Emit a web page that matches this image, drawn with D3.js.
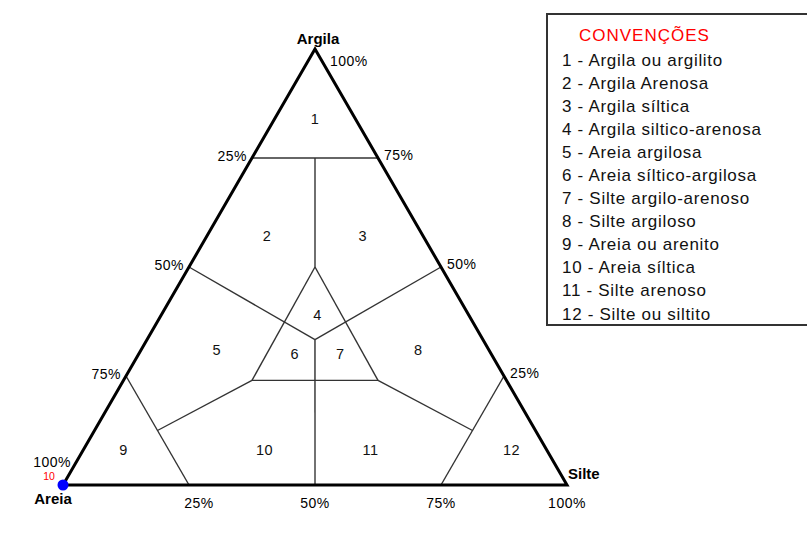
<!DOCTYPE html>
<html lang="pt">
<head>
<meta charset="UTF-8">
<title>Diagrama triangular de Shepard</title>
<script src="https://d3js.org/d3.v7.min.js"></script>
<style>
    body { margin: 0; background: #fff; }
    svg { font-family: "Liberation Sans", Arial, sans-serif; }
</style>
</head>
<body>
<div id="chart"></div>
<script>
const width = 807;
const height = 535;

// classes (legend)
const classIds = [1, 2, 3, 4, 5, 6, 7, 8, 9, 10, 11, 12];
const classNames = [
    "Argila ou argilito", "Argila Arenosa", "Argila síltica", "Argila siltico-arenosa",
    "Areia argilosa", "Areia síltico-argilosa", "Silte argilo-arenoso", "Silte argiloso",
    "Areia ou arenito", "Areia síltica", "Silte arenoso", "Silte ou siltito"
];

// label position of each class, as % clay and % silt (sand = rest)
const labelClay = [84, 57, 57, 39, 31, 30, 30, 31, 8, 8, 8, 8];
const labelSilt = [8, 12, 31, 31, 15, 31, 40, 55, 8, 36, 57, 85];

// class boundaries, as pairs of [clay, silt] points (%)
const boundaries = [
    [[75, 0], [75, 25]],          // 75% clay line
    [[75, 12.5], [50, 25]],       // upper vertical
    [[50, 25], [24, 25.5]],       // inner triangle
    [[24, 25.5], [24, 50.5]],
    [[24, 50.5], [50, 25]],
    [[50, 0], [33.33, 33.33]],    // left median
    [[50, 50], [33.33, 33.33]],   // right median
    [[33.33, 33.33], [0, 50]],    // lower vertical
    [[25, 0], [0, 25]],           // 75% sand line
    [[12.5, 12.5], [24, 25.5]],
    [[25, 75], [0, 75]],          // 75% silt line
    [[12.5, 75], [24, 50.5]]
];

const tickValues = [25, 50, 75, 100];

const x = d3.scaleLinear().domain([0, 100]).range([63, 567]);
const y = d3.scaleLinear().domain([0, 100]).range([485, 49]);

// ternary -> screen
function pt(clay, silt) {
    return [x(silt + clay / 2), y(clay)];
}

const svg = d3.select("#chart").append("svg")
    .attr("width", width)
    .attr("height", height);

const line = d3.line();

// boundaries
svg.append("g")
    .selectAll("path")
    .data(boundaries)
    .join("path")
    .attr("d", d => line(d.map(p => pt(p[0], p[1]))))
    .attr("fill", "none")
    .attr("stroke", "#333")
    .attr("stroke-width", 1.4);

// outer triangle
svg.append("path")
    .attr("d", line([pt(0, 0), pt(100, 0), pt(0, 100)]) + "Z")
    .attr("fill", "none")
    .attr("stroke", "#000")
    .attr("stroke-width", 3)
    .attr("stroke-linejoin", "miter");

// class numbers
svg.append("g")
    .selectAll("text")
    .data(classIds)
    .join("text")
    .attr("x", (d, i) => pt(labelClay[i], labelSilt[i])[0])
    .attr("y", (d, i) => pt(labelClay[i], labelSilt[i])[1])
    .attr("text-anchor", "middle")
    .attr("dominant-baseline", "central")
    .attr("font-size", 14.5)
    .attr("letter-spacing", 0.5)
    .attr("fill", "#111")
    .text(d => d);

// ticks: left side (sand %), right side (clay %), bottom (silt %)
const tickFont = 14;
const tickSpacing = 0.5;
svg.append("g")
    .selectAll("text")
    .data(tickValues.filter(v => v < 100))
    .join("text")
    .attr("x", d => pt(100 - d, 0)[0] - 5)
    .attr("y", d => pt(100 - d, 0)[1] - 2)
    .attr("text-anchor", "end")
    .attr("dominant-baseline", "central")
    .attr("font-size", tickFont)
    .attr("letter-spacing", tickSpacing)
    .text(d => d + "%");

svg.append("text")
    .attr("x", pt(0, 0)[0] + 8)
    .attr("y", pt(0, 0)[1] - 23)
    .attr("text-anchor", "end")
    .attr("dominant-baseline", "central")
    .attr("font-size", tickFont)
    .attr("letter-spacing", tickSpacing)
    .text("100%");

svg.append("g")
    .selectAll("text")
    .data(tickValues)
    .join("text")
    .attr("x", d => pt(d, 100 - d)[0] + (d === 100 ? 15 : 6))
    .attr("y", d => pt(d, 100 - d)[1] + (d === 100 ? 12 : -3))
    .attr("text-anchor", "start")
    .attr("dominant-baseline", "central")
    .attr("font-size", tickFont)
    .attr("letter-spacing", tickSpacing)
    .text(d => d + "%");

svg.append("g")
    .selectAll("text")
    .data(tickValues)
    .join("text")
    .attr("x", d => pt(0, d)[0] + (d === 25 ? 10 : 0))
    .attr("y", pt(0, 0)[1] + 18)
    .attr("text-anchor", "middle")
    .attr("dominant-baseline", "central")
    .attr("font-size", tickFont)
    .attr("letter-spacing", tickSpacing)
    .text(d => d + "%");

// vertex names
svg.append("text")
    .attr("x", pt(100, 0)[0] + 3).attr("y", pt(100, 0)[1] - 11)
    .attr("text-anchor", "middle").attr("dominant-baseline", "central")
    .attr("font-size", 15).attr("font-weight", "bold")
    .text("Argila");
svg.append("text")
    .attr("x", pt(0, 0)[0] - 10).attr("y", pt(0, 0)[1] + 13)
    .attr("text-anchor", "middle").attr("dominant-baseline", "central")
    .attr("font-size", 15).attr("font-weight", "bold")
    .text("Areia");
svg.append("text")
    .attr("x", pt(0, 100)[0] + 1).attr("y", pt(0, 100)[1] - 12)
    .attr("text-anchor", "start").attr("dominant-baseline", "central")
    .attr("font-size", 15).attr("font-weight", "bold")
    .text("Silte");

// sample point at the Areia corner
svg.append("circle")
    .attr("cx", pt(0, 0)[0]).attr("cy", pt(0, 0)[1])
    .attr("r", 5.5)
    .attr("fill", "#0000ff");
svg.append("text")
    .attr("x", pt(0, 0)[0] - 14).attr("y", pt(0, 0)[1] - 9)
    .attr("text-anchor", "middle").attr("dominant-baseline", "central")
    .attr("font-size", 10.5).attr("fill", "#ff0000")
    .text("10");

// legend
const legend = svg.append("g");
legend.append("rect")
    .attr("x", 547).attr("y", 14)
    .attr("width", 280).attr("height", 311)
    .attr("fill", "#fff")
    .attr("stroke", "#333")
    .attr("stroke-width", 2);
legend.append("text")
    .attr("x", 579).attr("y", 35)
    .attr("dominant-baseline", "central")
    .attr("font-size", 17).attr("letter-spacing", 1).attr("fill", "#ff0000")
    .text("CONVENÇÕES");
const rowY = d3.scaleLinear().domain([0, 11]).range([60, 314]);
legend.selectAll("text.item")
    .data(classIds)
    .join("text")
    .attr("class", "item")
    .attr("x", 562)
    .attr("y", (d, i) => rowY(i))
    .attr("dominant-baseline", "central")
    .attr("font-size", 17)
    .attr("letter-spacing", 0.7)
    .attr("fill", "#111")
    .text((d, i) => d + " - " + classNames[i]);
</script>
</body>
</html>
